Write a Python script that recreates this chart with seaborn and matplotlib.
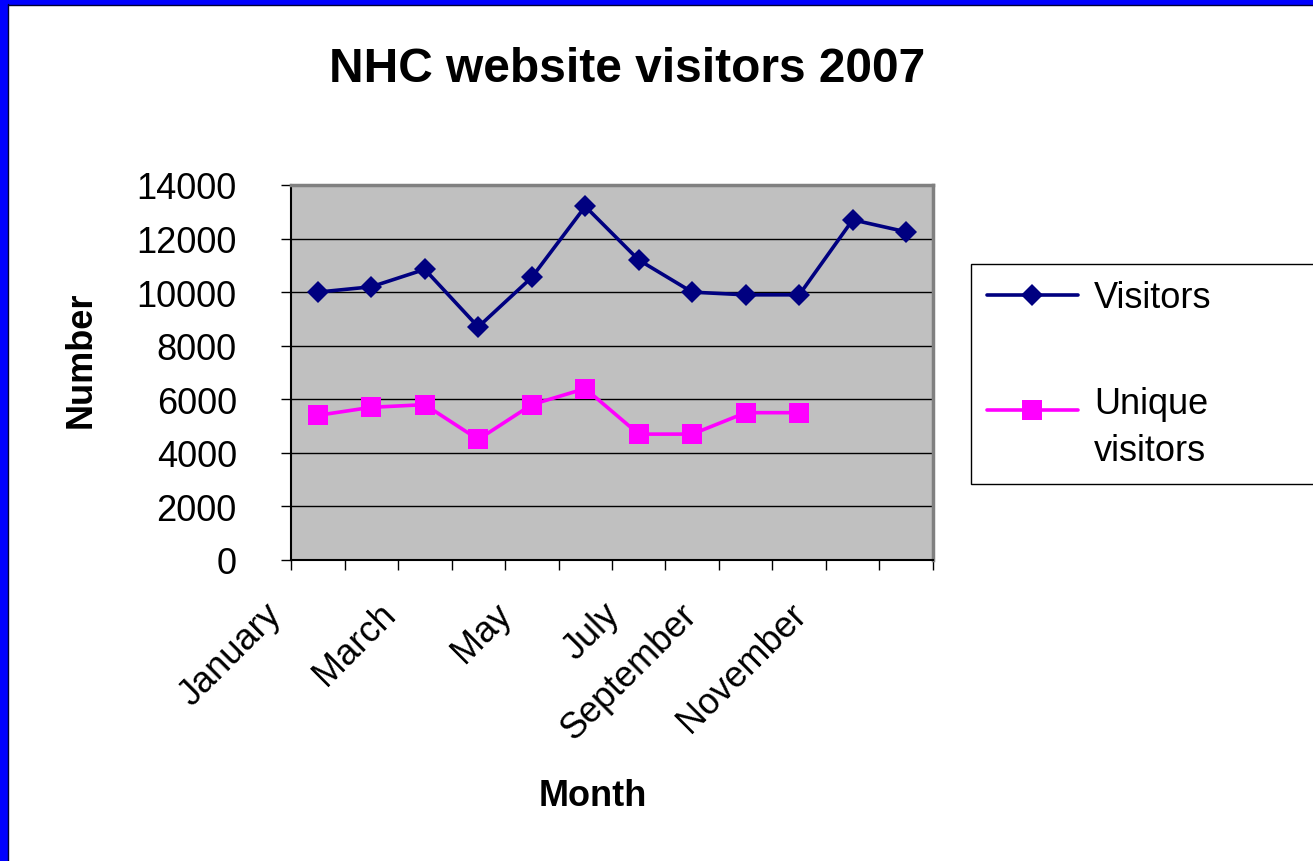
import numpy as np
import pandas as pd
import matplotlib
matplotlib.use("Agg")
import matplotlib.pyplot as plt
import matplotlib.transforms as mtransforms
from matplotlib.patches import Rectangle
from matplotlib.legend_handler import HandlerLine2D
import seaborn as sns

# data
months = ['January', 'February', 'March', 'April', 'May', 'June', 'July',
          'August', 'September', 'October', 'November', 'December']
visitors = [10000, 10200, 10850, 8700, 10550, 13200, 11200, 10000, 9900, 9900, 12700, 12250]
unique_visitors = [5400, 5700, 5800, 4500, 5800, 6400, 4700, 4700, 5500, 5500, np.nan, np.nan]
series_names = ['Visitors', 'Unique visitors']
legend_labels = ['Visitors', 'Unique\nvisitors']
series_colors = ['#000080', '#FF00FF']
series_markers = ['D', 's']
y_ticks = [0, 2000, 4000, 6000, 8000, 10000, 12000, 14000]
shown_months = months[::2]

df = pd.DataFrame({
    'pos': list(range(len(months))) * 2,
    'month': months * 2,
    'value': visitors + unique_visitors,
    'series': [series_names[0]] * len(months) + [series_names[1]] * len(months),
})


class RaisedHandler(HandlerLine2D):
    # excel puts the legend key next to the first line of a wrapped label
    def __init__(self, raise_by, **kw):
        super().__init__(**kw)
        self.raise_by = raise_by

    def create_artists(self, legend, orig_handle, xdescent, ydescent, width, height, fontsize, trans):
        artists = super().create_artists(legend, orig_handle, xdescent, ydescent,
                                         width, height, fontsize, trans)
        for a in artists:
            a.set_ydata(np.asarray(a.get_ydata()) + self.raise_by)
        return artists


sns.set_style("ticks")
plt.rcParams['font.family'] = ['Liberation Sans', 'DejaVu Sans']
plt.rcParams.update({'text.color': 'black', 'axes.labelcolor': 'black',
                     'xtick.color': 'black', 'ytick.color': 'black'})
fs = 26

W, H = 1313, 862
fig = plt.figure(figsize=(W / 100, H / 100), dpi=100)
ax = fig.add_axes([291 / W, 1 - 561 / H, 642 / W, 375 / H])
ax.set_facecolor('#C0C0C0')

sns.lineplot(data=df, x='pos', y='value', hue='series', style='series',
             hue_order=series_names, style_order=series_names,
             palette=dict(zip(series_names, series_colors)),
             markers=dict(zip(series_names, series_markers)),
             dashes=False, linewidth=2.6, markeredgewidth=0, ax=ax)

# marker sizes differ a bit in the original
for line in ax.lines:
    if line.get_marker() == 'D':
        line.set_markersize(11.5)
    elif line.get_marker() == 's':
        line.set_markersize(15)

ax.get_legend().remove()

ax.set_xlim(-0.5, len(months) - 0.5)
ax.set_ylim(0, 14000)
ax.set_yticks(y_ticks)
ax.set_yticklabels([str(t) for t in y_ticks])
ax.yaxis.grid(True, color='black', linewidth=1)
ax.set_axisbelow(True)

# tick marks between categories, labels on every other month
ax.set_xticks(np.arange(-0.5, len(months), 1))
ax.set_xticklabels([])
pos_lookup = dict(zip(months, range(len(months))))
ax.set_xticks([pos_lookup[m] for m in shown_months], minor=True)
ax.set_xticklabels(shown_months, minor=True, rotation=45, ha='right', va='center',
                   rotation_mode='anchor')
ax.tick_params(axis='x', which='major', length=7, width=1, color='black', direction='out')
ax.tick_params(axis='x', which='minor', length=0, pad=35, labelsize=fs)
ax.tick_params(axis='y', length=7, width=1, color='black', direction='out', pad=32, labelsize=fs)

# excel pushes longer rotated labels further left
renderer = fig.canvas.get_renderer()
for lab in ax.get_xticklabels(minor=True):
    tw, th, td = renderer.get_text_width_height_descent(lab.get_text(), lab.get_fontproperties(), ismath=False)
    dx = -(8 + 0.26 * tw) / 100
    lab.set_transform(lab.get_transform() + mtransforms.ScaledTranslation(dx, 0, fig.dpi_scale_trans))

for side in ['top', 'right']:
    ax.spines[side].set_color('#808080')
    ax.spines[side].set_linewidth(2.5)
for side in ['left', 'bottom']:
    ax.spines[side].set_color('black')
    ax.spines[side].set_linewidth(1.5)

ax.set_xlabel('Month', fontsize=fs, fontweight='bold')
ax.xaxis.set_label_coords(0.470, -0.582)
ax.set_ylabel('Number', fontsize=fs, fontweight='bold')
ax.yaxis.set_label_coords(-0.299, 0.536)

fig.text(627.5 / W, 1 - 69 / H, 'NHC website visitors 2007', ha='center', va='center',
         fontsize=34.5, fontweight='bold')

handles = ax.lines[:2]
leg = fig.legend(handles, legend_labels, loc='upper left',
                 bbox_to_anchor=(971 / W, 0, 0.3, 1 - 265 / H), mode='expand',
                 frameon=True, fancybox=False, edgecolor='black', framealpha=1,
                 fontsize=fs, handlelength=2.5, handletextpad=0.45,
                 labelspacing=1.95, borderpad=0.45, borderaxespad=0,
                 handler_map={handles[1]: RaisedHandler(13)})
leg.get_frame().set_linewidth(1)
for t in leg.get_texts():
    t.set_linespacing(1.45)

# blue slide frame on the left and top
fig.add_artist(Rectangle((0, 0), 7 / W, 1, transform=fig.transFigure, color='#0000FF', zorder=10))
fig.add_artist(Rectangle((0, 1 - 5 / H), 1, 5 / H, transform=fig.transFigure, color='#0000FF', zorder=10))
fig.add_artist(plt.Line2D([7.5 / W, 7.5 / W], [0, 1 - 5 / H], transform=fig.transFigure,
                          color='#000033', linewidth=1, zorder=11))
fig.add_artist(plt.Line2D([7.5 / W, 1], [1 - 5.5 / H, 1 - 5.5 / H], transform=fig.transFigure,
                          color='#000033', linewidth=1, zorder=11))

fig.savefig('out.png', dpi=100)
